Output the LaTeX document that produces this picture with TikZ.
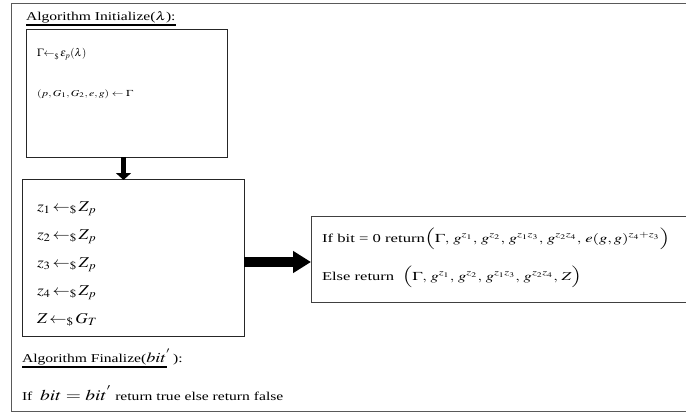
\documentclass[tikz,border=0pt]{standalone}
\usepackage{mathptmx}
\usepackage[no-math]{fontspec}
\setmainfont{Liberation Serif}
\usepackage{graphicx}
\usetikzlibrary{arrows.meta}
\newcommand{\wx}[2][1.3]{\scalebox{#1}[1]{#2}}
\tikzset{
  box/.style={draw=black!85, line width=0.9pt, inner sep=0pt, outer sep=0pt, anchor=north west},
  txt/.style={anchor=base west, inner sep=0pt, outer sep=0pt},
}
\begin{document}
\begin{tikzpicture}[x=1pt, y=-1pt]
\useasboundingbox (0,0) rectangle (686,412);
\fill[white] (0,0) rectangle (686,412);
% outer frame
\node[box, draw=black!65, minimum width=700pt, minimum height=408pt] (frame) at (11,3) {};
% boxes
\node[box, minimum width=201pt, minimum height=128pt] (box1) at (26,29) {};
\node[box, minimum width=222pt, minimum height=157pt] (box2) at (22,179) {};
\node[box, draw=black!75, minimum width=400pt, minimum height=86pt] (box3) at (311,216) {};
% titles
\node[txt, font=\fontsize{12}{14}\selectfont] (t1) at (26,21) {\wx{Algorithm Initialize(}\wx{$\lambda$}\wx{):}};
\draw[line width=1.8pt] (t1.base west) ++(0,4) -- ++(150,0);
\node[txt, font=\fontsize{12}{14}\selectfont] (t2) at (22,362) {\wx{Algorithm Finalize(}\wx{\fontsize{14}{16}\selectfont$bit^{'}$}\wx{\,):}};
\draw[line width=1.8pt] (t2.base west) ++(0,5) -- ++(145,0);
% box1 text
\node[txt, font=\fontsize{11}{13}\selectfont] (a1) at (37,57) {\wx[1.0]{$\Gamma{\leftarrow}_{\$}\,\varepsilon_{p}(\lambda)$}};
\node[txt, font=\fontsize{9}{11}\selectfont] (a2) at (37,96) {\wx{$(p,G_1,G_2,e,g)\leftarrow\Gamma$}};
% box2 text
\node[txt, font=\fontsize{15}{17}\selectfont] (z1) at (37,211) {\wx[1.15]{$z_1\!\leftarrow_{\$}\!Z_p$}};
\node[txt, font=\fontsize{15}{17}\selectfont] (z2) at (37,239) {\wx[1.15]{$z_2\!\leftarrow_{\$}\!Z_p$}};
\node[txt, font=\fontsize{15}{17}\selectfont] (z3) at (37,267) {\wx[1.15]{$z_3\!\leftarrow_{\$}\!Z_p$}};
\node[txt, font=\fontsize{15}{17}\selectfont] (z4) at (37,295) {\wx[1.15]{$z_4\!\leftarrow_{\$}\!Z_p$}};
\node[txt, font=\fontsize{15}{17}\selectfont] (z5) at (37,323) {\wx[1.15]{$Z\!\leftarrow_{\$}\!G_T$}};
% box3 text
\node[txt, font=\fontsize{12}{14}\selectfont] (r1) at (322,242) {\wx[1.39]{If bit = 0 return$\Big(\Gamma,\, g^{z_1},\, g^{z_2},\, g^{z_1z_3},\, g^{z_2z_4},\, e(g,g)^{z_4+z_3}\Big)$}};
\node[txt, font=\fontsize{12}{14}\selectfont] (r2) at (322,280) {\wx[1.38]{Else return\ \ $\Big(\Gamma,\, g^{z_1},\, g^{z_2},\, g^{z_1z_3},\, g^{z_2z_4},\, Z\Big)$}};
% final line
\node[txt, font=\fontsize{12}{14}\selectfont] (f1) at (22,400) {\wx[1.3]{If\ \ {\fontsize{15}{17}\selectfont$bit = bit^{'}$} return true else return false}};
% arrows
\coordinate (dx) at (123.5,0);
\coordinate (ry) at (0,262);
\draw[line width=5pt, -{Triangle[length=7pt, width=15pt]}] (box1.south -| dx) -- ([yshift=-1pt]box2.north -| dx);
\draw[line width=10pt, -{Triangle[length=18pt, width=21pt]}] (box2.east |- ry) -- (box3.west |- ry);
\end{tikzpicture}
\end{document}
